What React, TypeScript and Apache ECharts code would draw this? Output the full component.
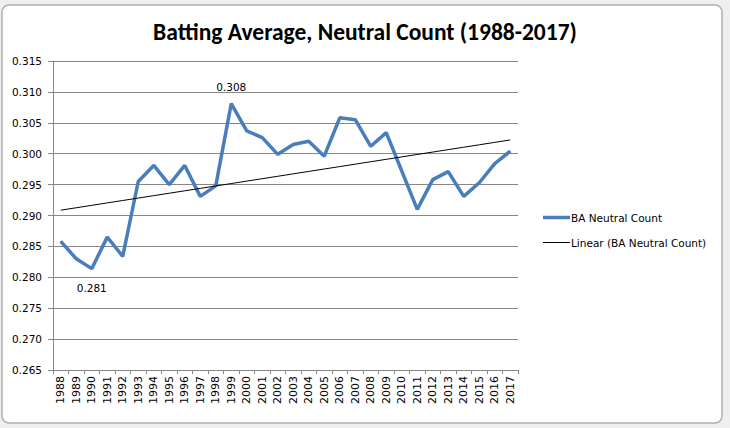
import React, { useEffect, useRef } from "react";
import * as echarts from "echarts";

const years = [
  "1988", "1989", "1990", "1991", "1992", "1993", "1994", "1995", "1996", "1997",
  "1998", "1999", "2000", "2001", "2002", "2003", "2004", "2005", "2006", "2007",
  "2008", "2009", "2010", "2011", "2012", "2013", "2014", "2015", "2016", "2017",
];
const baNeutral = [
  0.2858, 0.2830, 0.2814, 0.2865, 0.2834, 0.2955, 0.2981, 0.2950, 0.2981, 0.2931,
  0.2948, 0.3081, 0.3037, 0.3026, 0.2999, 0.3015, 0.3020, 0.2996, 0.3058, 0.3055,
  0.3012, 0.3034, 0.2972, 0.2910, 0.2958, 0.2971, 0.2931, 0.2953, 0.2984, 0.3004,
];
const labelledYears = { "1999": "top", "1990": "bottom" } as Record<string, string>;
const seriesName = "BA Neutral Count";
const trendName = "Linear (BA Neutral Count)";
const titleText = "Batting Average, Neutral Count (1988-2017)";

function linearTrend(vals: number[]): number[] {
  const n = vals.length;
  let sx = 0, sy = 0, sxx = 0, sxy = 0;
  vals.forEach((v, i) => {
    const x = i + 1;
    sx += x; sy += v; sxx += x * x; sxy += x * v;
  });
  const b = (n * sxy - sx * sy) / (n * sxx - sx * sx);
  const a = (sy - b * sx) / n;
  return vals.map((_, i) => a + b * (i + 1));
}

export default function App() {
  const ref = useRef<HTMLDivElement>(null);
  useEffect(() => {
    if (!ref.current) return;
    const chart = echarts.init(ref.current, null, { renderer: "svg" });
    const trend = linearTrend(baNeutral);
    const font = "'DejaVu Sans', sans-serif";
    const mainData = baNeutral.map((v, i) => {
      const pos = labelledYears[years[i]];
      if (!pos) return v;
      return {
        value: v,
        label: {
          show: true,
          position: pos,
          distance: pos === "top" ? 11 : 13,
          formatter: (p: any) => Number(p.value).toFixed(3),
          fontFamily: font,
          fontSize: 10.5,
          color: "#000",
        },
      };
    });
    chart.setOption({
      animation: false,
      backgroundColor: "#efefef",
      graphic: [
        {
          type: "rect",
          z: -100,
          shape: { x: 2, y: 5, width: 720, height: 418, r: 7 },
          style: { fill: "#ffffff", stroke: "#b0b0b0", lineWidth: 1.5 },
        },
      ],
      title: {
        text: titleText,
        left: "center",
        top: 15,
        textStyle: {
          fontFamily: "Carlito, 'Liberation Sans Narrow', sans-serif",
          fontSize: 23.5,
          fontWeight: "bold",
          color: "#000",
        },
      },
      legend: {
        orient: "vertical",
        left: 538,
        top: 207,
        itemWidth: 27,
        itemHeight: 14,
        itemGap: 14,
        textStyle: { fontFamily: font, fontSize: 10.5, color: "#000", padding: [0, 0, 0, -4] },
        data: [
          { name: seriesName, icon: "path://M0,0 H27 V3.5 H0 Z" },
          { name: trendName, icon: "path://M0,0 H27 V1 H0 Z" },
        ],
      },
      grid: { left: 53, right: 212, top: 61, bottom: 58, containLabel: false },
      xAxis: {
        type: "category",
        data: years,
        boundaryGap: true,
        axisLine: { lineStyle: { color: "#868686", width: 1 } },
        axisTick: { show: true, length: 4, alignWithLabel: false, lineStyle: { color: "#868686" } },
        axisLabel: {
          interval: 0,
          rotate: 90,
          margin: 6,
          fontFamily: font,
          fontSize: 11,
          color: "#000",
        },
      },
      yAxis: {
        type: "value",
        min: 0.265,
        max: 0.315,
        interval: 0.005,
        axisLine: { show: true, lineStyle: { color: "#868686", width: 1 } },
        axisTick: { show: true, length: 5, lineStyle: { color: "#868686" } },
        splitLine: { show: true, lineStyle: { color: "#868686", width: 1 } },
        axisLabel: {
          formatter: (v: number) => v.toFixed(3),
          margin: 11,
          fontFamily: font,
          fontSize: 10.5,
          color: "#000",
        },
      },
      series: [
        {
          name: seriesName,
          type: "line",
          data: mainData,
          symbol: "circle",
          symbolSize: 1,
          showSymbol: true,
          color: "#4a7ebb",
          itemStyle: { color: "#4a7ebb" },
          lineStyle: { color: "#4a7ebb", width: 3.5 },
          z: 3,
        },
        {
          name: trendName,
          type: "line",
          data: trend,
          symbol: "none",
          color: "#000000",
          lineStyle: { color: "#000000", width: 1 },
          z: 4,
        },
      ],
    });
    return () => chart.dispose();
  }, []);
  return (
    <div
      ref={ref}
      style={{ position: "absolute", left: 0, top: 0, width: 730, height: 428 }}
    />
  );
}
